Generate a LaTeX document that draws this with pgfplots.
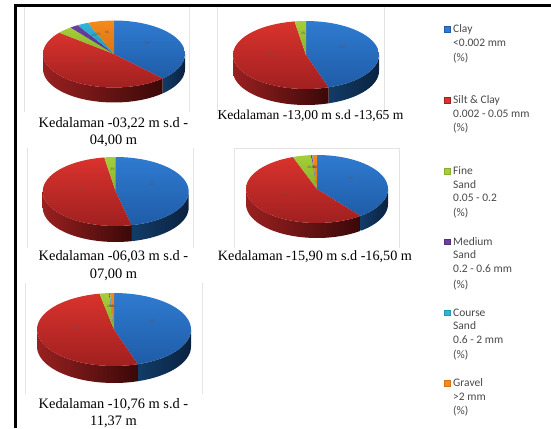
\documentclass[border=0pt]{standalone}
\usepackage{fontspec}
\setmainfont{Liberation Serif}
\newfontfamily\legendfont{Carlito}
\usepackage{pgfplots}
\usepackage{pgfplotstable}
\pgfplotsset{compat=1.18}

% Grain-size shares (%) per depth interval
\pgfplotstableread{
row pct
0 38.0
1 48.0
2 3.5
3 2.0
4 2.5
5 6.0
}\pieA
\pgfplotstableread{
row pct
0 45.0
1 52.5
2 2.5
3 0
4 0
5 0
}\pieB
\pgfplotstableread{
row pct
0 46.5
1 51.0
2 2.5
3 0
4 0
5 0
}\pieC
\pgfplotstableread{
row pct
0 39.5
1 55.0
2 4.2
3 0.2
4 0.1
5 1.0
}\pieD
\pgfplotstableread{
row pct
0 45.0
1 52.0
2 2.0
3 0.1
4 0.1
5 0.8
}\pieE

% Top-face gradients and side-wall gradients, one set per soil class
\definecolor{top0}{HTML}{2F7BD0}\definecolor{bot0}{HTML}{1F5CA8}
\definecolor{top1}{HTML}{D9332D}\definecolor{bot1}{HTML}{A02020}
\definecolor{top2}{HTML}{A6CE3A}\definecolor{bot2}{HTML}{86B02A}
\definecolor{top3}{HTML}{6A3FA0}\definecolor{bot3}{HTML}{52307E}
\definecolor{top4}{HTML}{2FB5D8}\definecolor{bot4}{HTML}{2296B6}
\definecolor{top5}{HTML}{F58A1C}\definecolor{bot5}{HTML}{D87410}
\definecolor{wl0}{HTML}{123C68}\definecolor{wr0}{HTML}{0A2240}
\definecolor{wl1}{HTML}{9A2020}\definecolor{wr1}{HTML}{3A0808}
\definecolor{wl2}{HTML}{6A8A20}\definecolor{wr2}{HTML}{4A6010}
\definecolor{wl3}{HTML}{3A2060}\definecolor{wr3}{HTML}{2A1648}
\definecolor{wl4}{HTML}{17708A}\definecolor{wr4}{HTML}{10566A}
\definecolor{wl5}{HTML}{B0600C}\definecolor{wr5}{HTML}{8A4A08}
\definecolor{framegray}{HTML}{E4E4E4}
\definecolor{legendtext}{HTML}{484848}

\tikzset{lg/.style={font=\legendfont\fontsize{11.5}{12}\selectfont,text=legendtext,anchor=west,inner sep=0pt}}
\tikzset{depthcap/.style={font=\fontsize{14.4}{15}\selectfont,inner sep=0pt}}

\newcommand\sectorplot[7]{% cx cy rx ry from to class
  \addplot[draw=none,top color=top#7,bottom color=bot#7,domain=0:1.025,samples=42]
    ({#1+#3*(x<=1.01?1:0)*sin(#5+(#6-#5)*min(x,1))},
     {#2-#4*(x<=1.01?1:0)*cos(#5+(#6-#5)*min(x,1))});
}
% Outer wall of one slice: the upper rim forwards, then the lower rim back
\newcommand\wallplot[8]{% cx cy rx ry depth from to class
  \addplot[draw=none,left color=wl#8,right color=wr#8,domain=0:2,samples=61]
    ({#1+#3*sin(x<=1.001?#6+(#7-#6)*x:#7+(#6-#7)*(x-1-1/30)*30/29)},
     {#2+(x<=1.001?0:#5)-#4*cos(x<=1.001?#6+(#7-#6)*x:#7+(#6-#7)*(x-1-1/30)*30/29)});
}

% Side walls first, then the top faces, then the small share labels
\newcommand\drawpie[6]{%
  \def\angA{0}%
  \pgfplotsforeachungrouped \r in {0,...,5}{%
    \pgfplotstablegetelem{\r}{pct}\of{#1}%
    \pgfmathsetmacro\angB{\angA+3.6*\pgfplotsretval}%
    \pgfmathsetmacro\wa{max(\angA,90)}%
    \pgfmathsetmacro\wb{min(\angB,270)}%
    \pgfmathparse{\wb>\wa?1:0}%
    \ifdim\pgfmathresult pt>0.5pt
      \edef\cmd{\noexpand\wallplot{#2}{#3}{#4}{#5}{#6}{\wa}{\wb}{\r}}\cmd
    \fi
    \global\let\angA\angB
  }%
  \def\angA{0}%
  \pgfplotsforeachungrouped \r in {0,...,5}{%
    \pgfplotstablegetelem{\r}{pct}\of{#1}%
    \let\share\pgfplotsretval
    \pgfmathsetmacro\angB{\angA+3.6*\share}%
    \pgfmathparse{\share>0?1:0}%
    \ifdim\pgfmathresult pt>0.5pt
      \edef\cmd{\noexpand\sectorplot{#2}{#3}{#4}{#5}{\angA}{\angB}{\r}}\cmd
    \fi
    \global\let\angA\angB
  }%
  \def\angA{0}%
  \pgfplotsforeachungrouped \r in {0,...,5}{%
    \pgfplotstablegetelem{\r}{pct}\of{#1}%
    \let\share\pgfplotsretval
    \pgfmathsetmacro\angB{\angA+3.6*\share}%
    \pgfmathparse{\share>0?1:0}%
    \ifdim\pgfmathresult pt>0.5pt
      \pgfmathsetmacro\mid{(\angA+\angB)/2}%
      \pgfmathsetmacro\lx{#2+0.5*#4*sin(\mid)}%
      \pgfmathsetmacro\ly{#3-5-0.5*#5*cos(\mid)}%
      \pgfmathsetmacro\lv{int(round(\share))}%
      \edef\cmd{\noexpand\node[font=\noexpand\legendfont\noexpand\fontsize{3.5}{4}\noexpand\selectfont,text=black!65,inner sep=0pt] at (axis cs:\lx,\ly) {\lv\noexpand\%};}\cmd
    \fi
    \global\let\angA\angB
  }%
}

\begin{document}
\begin{tikzpicture}
\useasboundingbox (0,0) rectangle (551pt,428pt);
\begin{axis}[
  at={(0,0)}, anchor=south west,
  hide axis, scale only axis, width=551pt, height=428pt,
  xmin=0, xmax=551, ymin=0, ymax=428, y dir=reverse,
  clip=true,
]
% Page frame
\addplot[black,line width=3pt,forget plot] coordinates {(15.5,428) (15.5,5.5) (551,5.5)};
% Light chart frames
\addplot[framegray,line width=0.8pt] coordinates {(24,7) (24,112)};
\addplot[framegray,line width=0.8pt] coordinates {(189,7) (189,112)};
\addplot[framegray,line width=0.8pt] coordinates {(217,7) (217,114)};
\addplot[framegray,line width=0.8pt] coordinates {(384,7) (384,114)};
\addplot[framegray,line width=0.8pt] coordinates {(27,148) (27,248)};
\addplot[framegray,line width=0.8pt] coordinates {(193,148) (193,248)};
\addplot[framegray,line width=0.8pt] coordinates {(234,248) (234,148) (399,148) (399,248)};
\addplot[framegray,line width=0.8pt] coordinates {(25,283) (25,394)};
\addplot[framegray,line width=0.8pt] coordinates {(202,283) (202,394)};

\drawpie{\pieA}{114}{54}{71}{33.5}{15}
\drawpie{\pieB}{306}{55}{73}{34}{16}
\drawpie{\pieC}{115.7}{191.5}{73}{34.5}{16}
\drawpie{\pieD}{317}{189}{71}{34}{15}
\drawpie{\pieE}{114}{329.5}{77}{36.5}{17}

% Depth captions
\node[depthcap] at (axis cs:113.5,123.5) {Kedalaman -03,22 m s.d -};
\node[depthcap] at (axis cs:113.5,140.5) {04,00 m};
\node[depthcap,font=\fontsize{13.6}{15}\selectfont] at (axis cs:310.5,116) {Kedalaman -13,00 m s.d -13,65 m};
\node[depthcap] at (axis cs:113.5,257) {Kedalaman -06,03 m s.d -};
\node[depthcap] at (axis cs:113.5,275) {07,00 m};
\node[depthcap,font=\fontsize{14.2}{15}\selectfont] at (axis cs:315,257) {Kedalaman -15,90 m s.d -16,50 m};
\node[depthcap] at (axis cs:113.5,405) {Kedalaman -10,76 m s.d -};
\node[depthcap] at (axis cs:113.5,421.5) {11,37 m};

% Legend swatches
\addplot[only marks,mark=square*,mark size=2.8pt,color=bot0,mark options={draw=bot0,fill=top0}] coordinates {(447,29.5)};
\addplot[only marks,mark=square*,mark size=2.8pt,color=bot1,mark options={draw=bot1,fill=top1}] coordinates {(447,100)};
\addplot[only marks,mark=square*,mark size=2.8pt,color=bot2,mark options={draw=bot2,fill=top2}] coordinates {(447,171)};
\addplot[only marks,mark=square*,mark size=2.8pt,color=bot3,mark options={draw=bot3,fill=top3}] coordinates {(447,241.5)};
\addplot[only marks,mark=square*,mark size=2.8pt,color=bot4,mark options={draw=bot4,fill=top4}] coordinates {(447,312.5)};
\addplot[only marks,mark=square*,mark size=2.8pt,color=bot5,mark options={draw=bot5,fill=top5}] coordinates {(447,383)};

% Legend entries
\node[lg] at (axis cs:453,29) {Clay};
\node[lg] at (axis cs:453,43) {<0.002 mm};
\node[lg] at (axis cs:453,58) {(\%)};
\node[lg] at (axis cs:453,100) {Silt \& Clay};
\node[lg] at (axis cs:453,114) {0.002 - 0.05 mm};
\node[lg] at (axis cs:453,128) {(\%)};
\node[lg] at (axis cs:453,171) {Fine};
\node[lg] at (axis cs:453,185) {Sand};
\node[lg] at (axis cs:453,198) {0.05 - 0.2};
\node[lg] at (axis cs:453,213) {(\%)};
\node[lg] at (axis cs:453,241.5) {Medium};
\node[lg] at (axis cs:453,255) {Sand};
\node[lg] at (axis cs:453,269) {0.2 - 0.6 mm};
\node[lg] at (axis cs:453,285) {(\%)};
\node[lg] at (axis cs:453,313) {Course};
\node[lg] at (axis cs:453,326) {Sand};
\node[lg] at (axis cs:453,340) {0.6 - 2 mm};
\node[lg] at (axis cs:453,355) {(\%)};
\node[lg] at (axis cs:453,383) {Gravel};
\node[lg] at (axis cs:453,397) {>2 mm};
\node[lg] at (axis cs:453,411) {(\%)};
\end{axis}
\end{tikzpicture}
\end{document}
